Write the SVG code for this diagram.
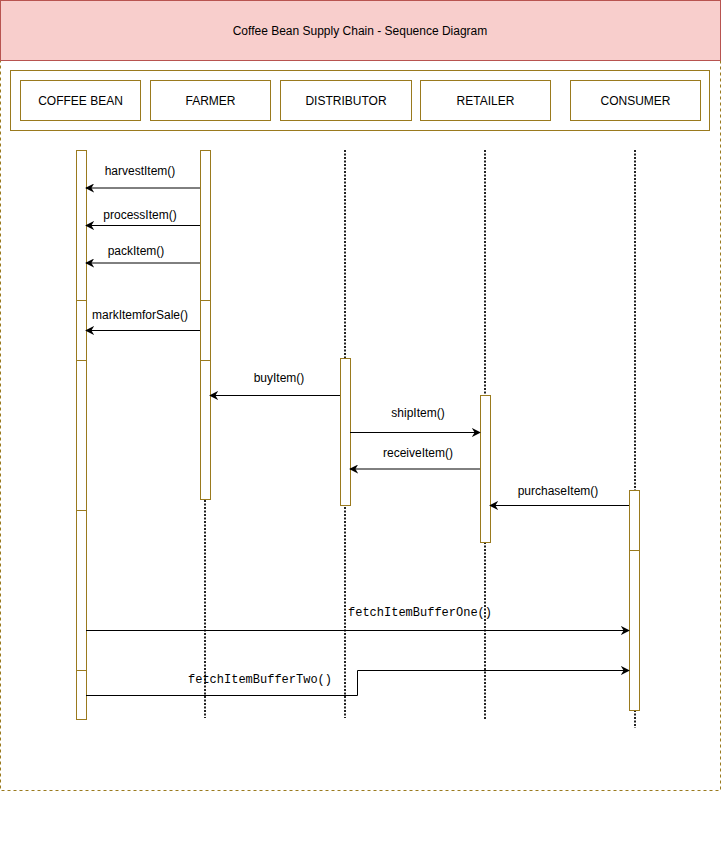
<svg xmlns="http://www.w3.org/2000/svg" width="722" height="861" viewBox="0 0 722 861">
<defs>
<style>
.box{fill:#fff;stroke:#9a7a1e;stroke-width:1}
.act{fill:#fff;stroke:#9a7a1e;stroke-width:1}
.life{stroke:#222;stroke-width:2;stroke-dasharray:2 1.5;fill:none}
.msg{stroke:#000;stroke-width:1;fill:none;marker-end:url(#arr)}
.t{font-family:"Liberation Sans",Arial,sans-serif;font-size:12px;fill:#000;text-anchor:middle}
.m{font-family:"Liberation Mono","DejaVu Sans Mono",monospace;font-size:12px;fill:#000}
</style>
<marker id="arr" viewBox="0 0 10 10" refX="9" refY="5" markerWidth="9" markerHeight="9" markerUnits="userSpaceOnUse" orient="auto">
<path d="M0,0 L10,5 L0,10 L3,5 Z" fill="#000"/>
</marker>
</defs>
<rect width="722" height="861" fill="#fff"/>
<g id="container">
<rect x="0.5" y="60.5" width="720" height="730" fill="#fff" stroke="#9a7a1e" stroke-dasharray="3 3"/>
</g>
<g id="title">
<rect x="0.5" y="0.5" width="720" height="60" fill="#f8cecc" stroke="#b85450"/>
<text class="t" x="360" y="35">Coffee Bean Supply Chain - Sequence Diagram</text>
</g>
<g id="header">
<rect class="box" x="10.5" y="70.5" width="699" height="60"/>
</g>
<g id="lifelines">
<line class="life" x1="205" y1="150" x2="205" y2="718"/>
<line class="life" x1="345" y1="150" x2="345" y2="718"/>
<line class="life" x1="485" y1="150" x2="485" y2="720"/>
<line class="life" x1="635" y1="150" x2="635" y2="728"/>
</g>
<g id="coffee-bean">
<rect class="box" x="20.5" y="80.5" width="120" height="40"/>
<text class="t" x="80.5" y="105">COFFEE BEAN</text>
<rect class="act" x="76.5" y="150.5" width="10" height="569"/>
<path d="M76.5 300.5h10M76.5 360.5h10M76.5 510.5h10M76.5 670.5h10" stroke="#9a7a1e"/>
</g>
<g id="farmer">
<rect class="box" x="150.5" y="80.5" width="120" height="40"/>
<text class="t" x="210.5" y="105">FARMER</text>
<rect class="act" x="200.5" y="150.5" width="10" height="349"/>
<path d="M200.5 300.5h10M200.5 360.5h10" stroke="#9a7a1e"/>
</g>
<g id="distributor">
<rect class="box" x="280.5" y="80.5" width="131" height="40"/>
<text class="t" x="346" y="105">DISTRIBUTOR</text>
<rect class="act" x="340.5" y="358.5" width="10" height="147"/>
</g>
<g id="retailer">
<rect class="box" x="420.5" y="80.5" width="130" height="40"/>
<text class="t" x="485.5" y="105">RETAILER</text>
<rect class="act" x="480.5" y="395.5" width="10" height="147"/>
</g>
<g id="consumer">
<rect class="box" x="570.5" y="80.5" width="130" height="40"/>
<text class="t" x="635.5" y="105">CONSUMER</text>
<rect class="act" x="629.5" y="490.5" width="10" height="220"/>
<path d="M629.5 550.5h10" stroke="#9a7a1e"/>
</g>
<g id="connectors">
<line class="msg" x1="200" y1="188" x2="86" y2="188"/>
<text class="t" x="140" y="175">harvestItem()</text>
<line class="msg" x1="200" y1="225.5" x2="86" y2="225.5"/>
<text class="t" x="140" y="219">processItem()</text>
<line class="msg" x1="200" y1="263" x2="86" y2="263"/>
<text class="t" x="136" y="255">packItem()</text>
<line class="msg" x1="200" y1="330.5" x2="86" y2="330.5"/>
<text class="t" x="140" y="319">markItemforSale()</text>
<line class="msg" x1="340" y1="395.5" x2="210" y2="395.5"/>
<text class="t" x="279" y="382">buyItem()</text>
<line class="msg" x1="350" y1="432.5" x2="480" y2="432.5"/>
<text class="t" x="418" y="417">shipItem()</text>
<line class="msg" x1="480" y1="469" x2="350" y2="469"/>
<text class="t" x="418" y="457">receiveItem()</text>
<line class="msg" x1="629" y1="505.5" x2="490" y2="505.5"/>
<text class="t" x="558" y="495">purchaseItem()</text>
<line class="msg" x1="86" y1="630.5" x2="629" y2="630.5"/>
<text class="m" x="348" y="616">fetchItemBufferOne()</text>
<path class="msg" d="M86 695.5H357.5V670.5H629"/>
<text class="m" x="188" y="683">fetchItemBufferTwo()</text>
</g>
</svg>
